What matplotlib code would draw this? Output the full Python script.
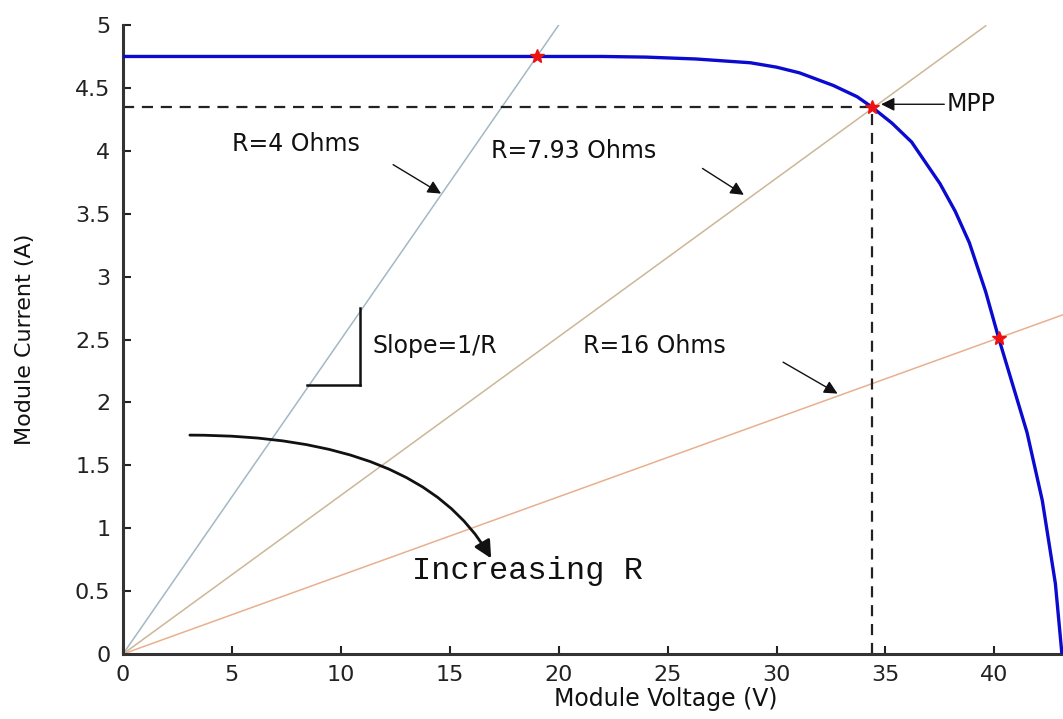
import matplotlib
matplotlib.use("Agg")
import matplotlib.pyplot as plt
from matplotlib.ticker import FormatStrFormatter
import numpy as np

# I-V curve of the module
volts = [0, 22.0, 24.0, 26.3, 28.8, 30.0, 31.05, 32.6, 33.7, 34.36, 35.3,
         36.2, 37.5, 38.2, 38.85, 39.6, 40.2, 41.05, 41.5, 42.2, 42.8, 43.1]
amps = [4.75, 4.75, 4.745, 4.73, 4.70, 4.665, 4.62, 4.52, 4.43, 4.35, 4.22,
        4.07, 3.74, 3.52, 3.27, 2.88, 2.51, 2.02, 1.76, 1.22, 0.56, 0.0]

# load lines I = V/R
loads = [4.0, 7.93, 16.0]
load_vmax = [20.0, 39.6, 44.0]
load_colors = ["#a3b8c4", "#cdb697", "#e8b08e"]

# operating points (V, I)
op_v = [19.0, 34.36, 40.2]
op_i = [4.75, 4.35, 2.51]
mpp_v, mpp_i = 34.36, 4.35

fig = plt.figure(figsize=(10.63, 7.19), dpi=100)
ax = fig.add_axes([0.1157, 0.0904, 0.8843, 0.8748])

for r, vmax, c in zip(loads, load_vmax, load_colors):
    v = np.array([0, vmax])
    ax.plot(v, v / r, color=c, lw=1.1, zorder=2)

ax.plot(volts, amps, color="#0a0ad0", lw=2.4, zorder=3,
        solid_joinstyle="round")

ax.plot([0, mpp_v], [mpp_i, mpp_i], color="#222222", lw=1.6,
        ls=(0, (5, 3.5)), zorder=2)
ax.plot([mpp_v, mpp_v], [0, mpp_i], color="#222222", lw=1.6,
        ls=(0, (5, 3.5)), zorder=2)

ax.plot(op_v, op_i, ls="none", marker="*", ms=10, color="#ee1111", zorder=4)

# slope triangle
ax.plot([8.44, 10.9], [2.14, 2.14], color="#111111", lw=1.8)
ax.plot([10.9, 10.9], [2.14, 2.75], color="#111111", lw=1.8)

txt = dict(fontsize=17, color="#111111", family="DejaVu Sans")
ax.text(5.0, 4.0, "R=4 Ohms", **txt)
ax.text(16.9, 3.94, "R=7.93 Ohms", **txt)
ax.text(21.1, 2.39, "R=16 Ohms", **txt)
ax.text(37.8, 4.32, "MPP", **txt)
ax.text(11.47, 2.39, "Slope=1/R", **txt)
ax.text(13.26, 0.60, "Increasing R", fontsize=23, color="#111111",
        family="Liberation Mono")

arr = dict(arrowstyle="-|>", color="#111111", lw=1.0, mutation_scale=20,
           shrinkA=0, shrinkB=0)
ax.annotate("", xy=(14.6, 3.66), xytext=(12.4, 3.89), arrowprops=arr)
ax.annotate("", xy=(28.5, 3.65), xytext=(26.6, 3.86), arrowprops=arr)
ax.annotate("", xy=(32.8, 2.07), xytext=(30.3, 2.32), arrowprops=arr)
ax.annotate("", xy=(34.8, 4.37), xytext=(37.7, 4.37), arrowprops=arr)

ax.annotate("", xy=(16.9, 0.76), xytext=(3.07, 1.74),
            arrowprops=dict(arrowstyle="-|>", color="#111111", lw=2.0,
                            mutation_scale=26, shrinkA=0, shrinkB=0,
                            connectionstyle="angle3,angleA=0,angleB=120"))

ax.set_xlim(0, 43.15)
ax.set_ylim(0, 5)
ax.set_xticks(np.arange(0, 45, 5))
ax.set_yticks(np.arange(0, 5.01, 0.5))
ax.yaxis.set_major_formatter(FormatStrFormatter("%g"))
ax.tick_params(direction="in", length=6, width=1.5, labelsize=16,
               colors="#222222")
ax.tick_params(axis="y", pad=9)
ax.tick_params(axis="x", pad=8)

for s in ["top", "right"]:
    ax.spines[s].set_visible(False)
for s in ["left", "bottom"]:
    ax.spines[s].set_linewidth(2.2)
    ax.spines[s].set_color("#333333")

ax.set_xlabel("Module Voltage (V)", fontsize=17, color="#111111")
ax.xaxis.set_label_coords(0.577, -0.052)
ax.set_ylabel("Module Current (A)", fontsize=16, color="#111111")
ax.yaxis.set_label_coords(-0.094, 0.5)

fig.savefig("out.png", dpi=100)
